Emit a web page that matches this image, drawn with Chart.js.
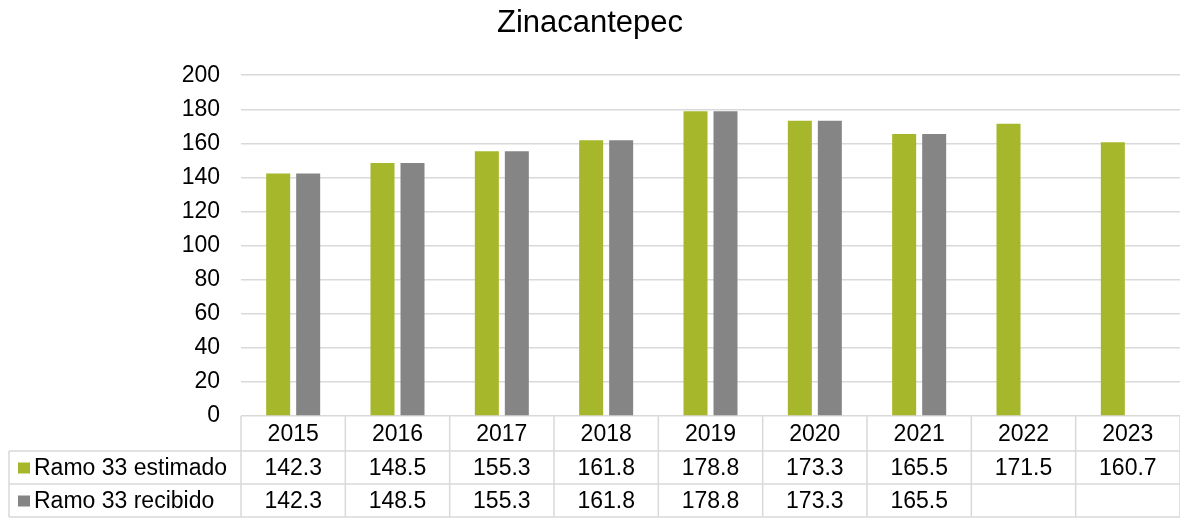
<!DOCTYPE html>
<html>
<head>
<meta charset="utf-8">
<script src="https://cdn.jsdelivr.net/npm/chart.js@4/dist/chart.umd.min.js"></script>
<style>
    body{margin:0; background:#fff;}
    .chart-box{width:1180px; height:518px; position:relative;}
</style>
</head>
<body>
<div class="chart-box"><canvas id="chart"></canvas></div>
<script>
const years = ["2015", "2016", "2017", "2018", "2019", "2020", "2021", "2022", "2023"]
const estimado = [142.3, 148.5, 155.3, 161.8, 178.8, 173.3, 165.5, 171.5, 160.7]
const recibido = [142.3, 148.5, 155.3, 161.8, 178.8, 173.3, 165.5, null, null]
const yTicks = [0, 20, 40, 60, 80, 100, 120, 140, 160, 180, 200]

const green = "#a6b72b"
const gray = "#858585"
const lineColor = "#d9d9d9"
const fontName = "'Liberation Sans', Arial, sans-serif"

Chart.defaults.font.family = fontName
Chart.defaults.color = "#000"

// tabla de datos debajo del eje
const dataTable = {
    id: "dataTable",
    afterDraw(chart){
        const ctx = chart.ctx
        const xs = chart.scales.x
        const area = chart.chartArea
        const colW = area.width / years.length
        const top = area.bottom
        const row1 = top + 35
        const row2 = row1 + 33
        const bottom = 517
        const leftEdge = 9

        ctx.save()
        ctx.strokeStyle = lineColor
        ctx.lineWidth = 1.5

        ctx.beginPath()
        ctx.moveTo(leftEdge, row1); ctx.lineTo(area.right, row1)
        ctx.moveTo(leftEdge, row2); ctx.lineTo(area.right, row2)
        ctx.moveTo(leftEdge, bottom); ctx.lineTo(area.right, bottom)
        ctx.moveTo(leftEdge, row1); ctx.lineTo(leftEdge, bottom)
        for(let i = 0; i <= years.length; i++){
            const x = area.left + i * colW
            ctx.moveTo(x, top); ctx.lineTo(x, bottom)
        }
        ctx.stroke()

        ctx.font = "23px " + fontName
        ctx.fillStyle = "#000"
        ctx.textAlign = "center"
        ctx.textBaseline = "middle"

        const series = chart.data.datasets
        years.forEach((y, i) => {
            const cx = xs.getPixelForValue(i)
            ctx.fillText(y, cx, (top + row1) / 2 + 1)
            series.forEach((ds, j) => {
                const v = ds.data[i]
                if(v == null) return
                const cy = j == 0 ? (row1 + row2) / 2 + 1 : (row2 + bottom) / 2 + 1
                ctx.fillText(v.toFixed(1), cx, cy)
            })
        })

        ctx.textAlign = "left"
        series.forEach((ds, j) => {
            const cy = j == 0 ? (row1 + row2) / 2 + 1 : (row2 + bottom) / 2 + 1
            ctx.fillStyle = ds.backgroundColor
            ctx.fillRect(18, cy - 6, 12, 11)
            ctx.fillStyle = "#000"
            ctx.fillText(ds.label, 34, cy)
        })
        ctx.restore()
    }
}

new Chart(document.getElementById("chart"), {
    type: "bar",
    data: {
        labels: years,
        datasets: [
            {
                label: "Ramo 33 estimado",
                data: estimado,
                backgroundColor: green,
                barPercentage: 0.8,
                categoryPercentage: 0.575
            },
            {
                label: "Ramo 33 recibido",
                data: recibido,
                backgroundColor: gray,
                barPercentage: 0.8,
                categoryPercentage: 0.575
            }
        ]
    },
    options: {
        responsive: true,
        maintainAspectRatio: false,
        animation: false,
        layout: {
            padding: {left: 0, right: 0, top: 0, bottom: 102}
        },
        plugins: {
            legend: {display: false},
            tooltip: {enabled: false},
            title: {
                display: true,
                text: "Zinacantepec",
                color: "#000",
                font: {size: 31, weight: "normal"},
                padding: {top: 5, bottom: 33}
            }
        },
        scales: {
            x: {
                display: false
            },
            y: {
                min: 0,
                max: 200,
                afterBuildTicks(scale){
                    scale.ticks = yTicks.map(v => ({value: v}))
                },
                afterFit(scale){
                    scale.width = 241
                },
                border: {display: false},
                grid: {
                    color: lineColor,
                    lineWidth: 1.5,
                    drawTicks: false
                },
                ticks: {
                    font: {size: 23},
                    color: "#000",
                    padding: 21
                }
            }
        }
    },
    plugins: [dataTable]
})
</script>
</body>
</html>
